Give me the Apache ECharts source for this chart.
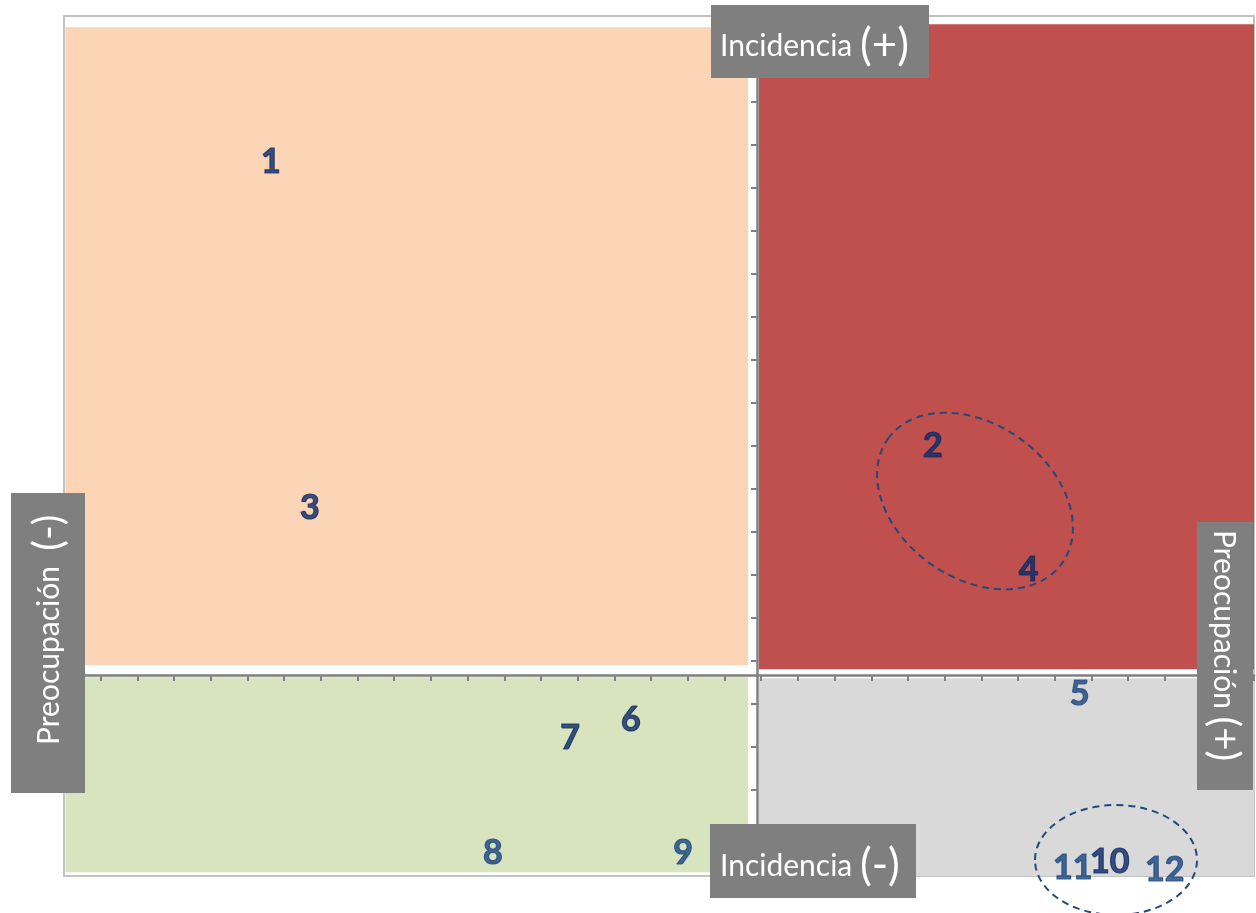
<!DOCTYPE html>
<html>
<head>
<meta charset="utf-8">
<script src="https://cdn.jsdelivr.net/npm/echarts@6/dist/echarts.min.js"></script>
<style>
html,body{margin:0;padding:0;background:#fff;}
#chart{width:1256px;height:913px;}
</style>
</head>
<body>
<div id="chart"></div>
<script>
// ---- data (axis units: one tick = 1) ----
const pointIds     = ['1','2','3','4','5','6','7','8','9','10','11','12'];
const preocupacion = [5.64, 23.68, 6.70, 26.29, 27.68, 15.45, 13.79, 11.69, 16.87, 28.50, 27.49, 30.00];
const incidencia   = [16.65, 10.05, 8.60, 7.16, 4.28, 3.67, 3.26, 0.58, 0.58, 0.37, 0.23, 0.19];
const lighterIds   = ['5','8','9','11','12'];

const xMax = 32.43, yMax = 20;

const chart = echarts.init(document.getElementById('chart'), null, {renderer:'canvas'});

const pts = pointIds.map((id, i) => {
  const c = lighterIds.includes(id) ? '#1B4680' : '#0E2A66';
  return {
    value: [preocupacion[i], incidencia[i]],
    name: id,
    label: { color: c, textBorderColor: c, textBorderWidth: 1.2 }
  };
});

const axisGray = '#808080';

function box(x, y, w, h) {
  return { type:'rect', z:100, shape:{x, y, width:w, height:h}, style:{fill:'#7F7F7F'} };
}
function label(x, y, main, paren, rot, big) {
  return {
    type:'text', z:101, x, y, rotation: rot,
    style:{
      text: '{a|' + main + '}{b|' + paren + '}',
      fill:'#fff', textAlign:'left', textVerticalAlign:'middle',
      rich:{
        a:{fontFamily:'Lato', fontSize:30, fill:'#fff', color:'#fff'},
        b:{fontFamily:'Lato', fontSize:big, fill:'#fff', color:'#fff'}
      }
    }
  };
}

const option = {
  backgroundColor:'#fff',
  animation:false,
  grid:[
    {left:64, right:2, top:16, bottom:37, show:true, borderColor:'#C3C3C3', borderWidth:2, backgroundColor:'transparent'},
    {left:64, right:2, top:16, bottom:238},
    {left:757, right:2, top:16, bottom:37}
  ],
  xAxis:[
    {gridIndex:0, type:'value', min:0, max:xMax, show:false},
    {gridIndex:1, type:'value', min:0, max:xMax, interval:1, position:'bottom', z:10,
      axisLine:{show:true, onZero:false, lineStyle:{color:axisGray, width:2.5}},
      axisTick:{show:true, length:6, lineStyle:{color:axisGray, width:2}},
      axisLabel:{show:false}, splitLine:{show:false}},
    {gridIndex:2, type:'value', min:0, max:1, show:false}
  ],
  yAxis:[
    {gridIndex:0, type:'value', min:0, max:yMax, show:false},
    {gridIndex:1, type:'value', min:0, max:1, show:false},
    {gridIndex:2, type:'value', min:0, max:yMax, interval:1, position:'left', z:10,
      axisLine:{show:true, onZero:false, lineStyle:{color:axisGray, width:2.5}},
      axisTick:{show:true, length:6, lineStyle:{color:axisGray, width:2}},
      axisLabel:{show:false}, splitLine:{show:false}}
  ],
  series:[{
    type:'scatter', xAxisIndex:0, yAxisIndex:0, z:5,
    symbolSize:1, itemStyle:{color:'transparent'},
    silent:true,
    label:{show:true, position:'inside', formatter:'{b}', offset:[0, 2],
      fontFamily:'Lato', fontWeight:'bold', fontSize:34},
    data: pts,
    markArea:{
      silent:true, z:1,
      label:{show:false},
      data:[
        [{xAxis:0.04, yAxis:19.74, itemStyle:{color:'#FBD5B5'}}, {xAxis:18.64, yAxis:4.90}],
        [{xAxis:18.94, yAxis:19.81, itemStyle:{color:'#C0504D'}}, {xAxis:xMax, yAxis:4.81}],
        [{xAxis:0.04, yAxis:4.62, itemStyle:{color:'#D7E4BD'}}, {xAxis:18.64, yAxis:0.09}],
        [{xAxis:18.94, yAxis:4.60, itemStyle:{color:'#D9D9D9'}}, {xAxis:xMax, yAxis:-0.05}]
      ]
    }
  }],
  graphic:[
    {type:'ellipse', z:50, x:975, y:501, rotation:-0.62, shape:{cx:0, cy:0, rx:107, ry:77},
      style:{fill:'none', stroke:'#24487A', lineWidth:2, lineDash:[7,5]}},
    {type:'ellipse', z:50, x:1116, y:860, shape:{cx:0, cy:0, rx:81, ry:55},
      style:{fill:'none', stroke:'#24487A', lineWidth:2, lineDash:[7,5]}},
    box(711, 5, 218, 73),
    label(720, 46, 'Incidencia ', '(+)', 0, 44),
    box(710, 824, 206, 74),
    label(720, 866, 'Incidencia ', '(-)', 0, 44),
    box(11, 493, 74, 300),
    label(49, 745, 'Preocupación  ', '(-)', Math.PI/2, 40),
    box(1197, 522, 56, 268),
    label(1224, 530, 'Preocupación ', '(+)', -Math.PI/2, 40)
  ]
};
chart.setOption(option);
</script>
</body>
</html>
